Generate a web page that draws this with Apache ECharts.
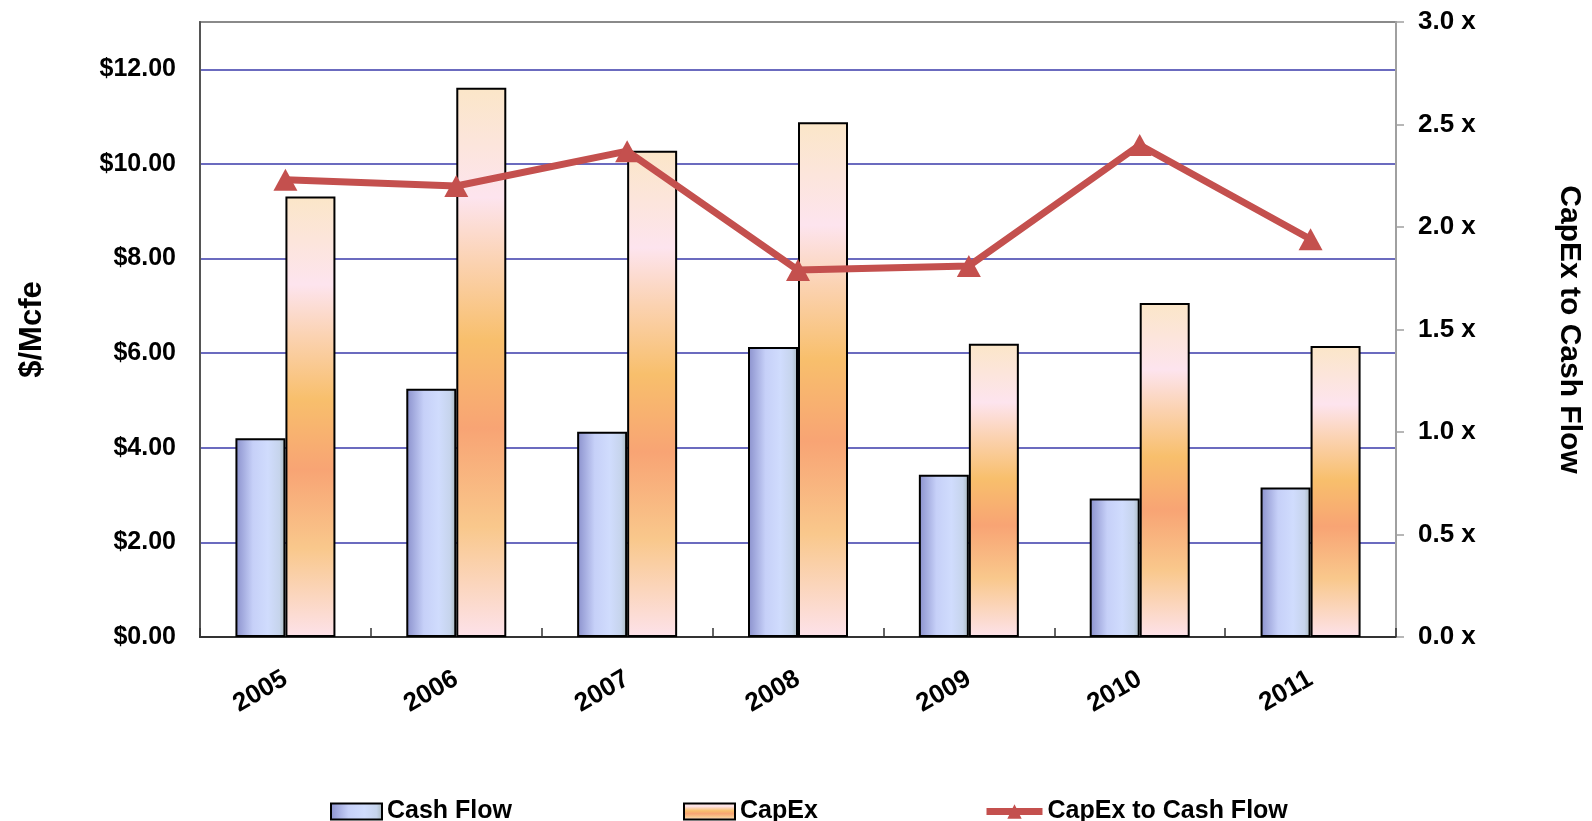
<!DOCTYPE html>
<html>
<head>
<meta charset="utf-8">
<script src="https://cdn.jsdelivr.net/npm/echarts@6/dist/echarts.min.js"></script>
<style>
html,body{margin:0;padding:0;background:#fff;}
#chart{width:1592px;height:821px;}
</style>
</head>
<body>
<div id="chart"></div>
<script>
var categories = ['2005','2006','2007','2008','2009','2010','2011'];
var cashFlow = [4.20, 5.25, 4.34, 6.13, 3.43, 2.93, 3.16];
var capEx = [9.31, 11.61, 10.28, 10.88, 6.20, 7.06, 6.15];
var capExToCashFlow = [2.23, 2.20, 2.37, 1.79, 1.81, 2.40, 1.94];
var leftTicks = [0, 2, 4, 6, 8, 10, 12];
var rightTicks = [0, 0.5, 1.0, 1.5, 2.0, 2.5, 3.0];

var FONT = "'Liberation Sans', Arial, sans-serif";
var chart = echarts.init(document.getElementById('chart'));

var cfGrad = new echarts.graphic.LinearGradient(0, 0, 1, 0, [
  {offset: 0, color: '#8a90cc'},
  {offset: 0.35, color: '#c6d0f8'},
  {offset: 0.65, color: '#d0dcfd'},
  {offset: 0.88, color: '#c6d4ec'},
  {offset: 1, color: '#a8b8bc'}
]);
var cxGrad = new echarts.graphic.LinearGradient(0, 0, 0, 1, [
  {offset: 0, color: '#fbe6c8'},
  {offset: 0.2, color: '#fde4ee'},
  {offset: 0.32, color: '#fbd2b0'},
  {offset: 0.46, color: '#f8bf6c'},
  {offset: 0.62, color: '#f8a474'},
  {offset: 0.8, color: '#f9c88c'},
  {offset: 1, color: '#fde2ea'}
]);

var legendText = {fontFamily: FONT, fontWeight: 'bold', fontSize: 25, color: '#000'};

chart.setOption({
  animation: false,
  backgroundColor: '#fff',
  grid: {left: 200, right: 192, top: 22, bottom: 184, show: true, borderColor: '#8a8a8a', borderWidth: 2, backgroundColor: 'transparent'},
  legend: [
    {data: [{name: 'Cash Flow', icon: 'rect'}], left: 325, top: 794, itemWidth: 51, itemHeight: 16, textStyle: legendText},
    {data: [{name: 'CapEx', icon: 'rect'}], left: 678, top: 794, itemWidth: 51, itemHeight: 16, textStyle: legendText},
    {data: ['CapEx to Cash Flow'], left: 978, top: 794, itemWidth: 56, itemHeight: 18, textStyle: legendText,
     lineStyle: {width: 7, color: '#c4504e'}}
  ],
  xAxis: {
    type: 'category',
    data: categories,
    boundaryGap: true,
    axisLine: {lineStyle: {color: '#333', width: 2}},
    axisTick: {show: true, inside: true, length: 9, lineStyle: {color: '#333', width: 1.5}},
    axisLabel: {rotate: 30, margin: 40, fontFamily: FONT, fontWeight: 'bold', fontSize: 26, color: '#000'}
  },
  yAxis: [
    {
      type: 'value', min: 0, max: 13, interval: 2,
      name: '$/Mcfe', nameLocation: 'middle', nameRotate: 90, nameGap: 152,
      nameTextStyle: {fontFamily: FONT, fontWeight: 'bold', fontSize: 31, color: '#000'},
      axisLine: {show: true, lineStyle: {color: '#555', width: 2}},
      axisTick: {show: false},
      axisLabel: {
        margin: 24, fontFamily: FONT, fontWeight: 'bold', fontSize: 25, color: '#000',
        formatter: function (v) { return leftTicks.indexOf(v) >= 0 ? '$' + v.toFixed(2) : ''; }
      },
      splitLine: {show: true, lineStyle: {color: ['#3a3aaa','#3a3aaa','#3a3aaa','#3a3aaa','#3a3aaa','#3a3aaa','#3a3aaa','#8a8a8a'], width: 1.5}}
    },
    {
      type: 'value', min: 0, max: 3, interval: 0.5, position: 'right',
      name: 'CapEx to Cash Flow', nameLocation: 'middle', nameRotate: -90, nameGap: 158,
      nameTextStyle: {fontFamily: FONT, fontWeight: 'bold', fontSize: 30, color: '#000'},
      axisLine: {show: true, lineStyle: {color: '#a0a0a0', width: 2}},
      axisTick: {show: true, length: 8, lineStyle: {color: '#a0a0a0', width: 1.5}},
      axisLabel: {
        margin: 22, fontFamily: FONT, fontWeight: 'bold', fontSize: 26, color: '#000',
        formatter: function (v) { return rightTicks.indexOf(v) >= 0 ? v.toFixed(1) + ' x' : ''; }
      },
      splitLine: {show: false}
    }
  ],
  series: [
    {
      name: 'Cash Flow', type: 'bar', data: cashFlow, barWidth: 50, barGap: '0%',
      itemStyle: {color: cfGrad, borderColor: '#000', borderWidth: 2}
    },
    {
      name: 'CapEx', type: 'bar', data: capEx, barWidth: 50, barGap: '0%',
      itemStyle: {color: cxGrad, borderColor: '#000', borderWidth: 2}
    },
    {
      name: 'CapEx to Cash Flow', type: 'line', yAxisIndex: 1, data: capExToCashFlow, z: 10,
      symbol: 'triangle', symbolSize: [24, 22],
      lineStyle: {color: '#c4504e', width: 7},
      itemStyle: {color: '#c4504e'}
    }
  ]
});
</script>
</body>
</html>
